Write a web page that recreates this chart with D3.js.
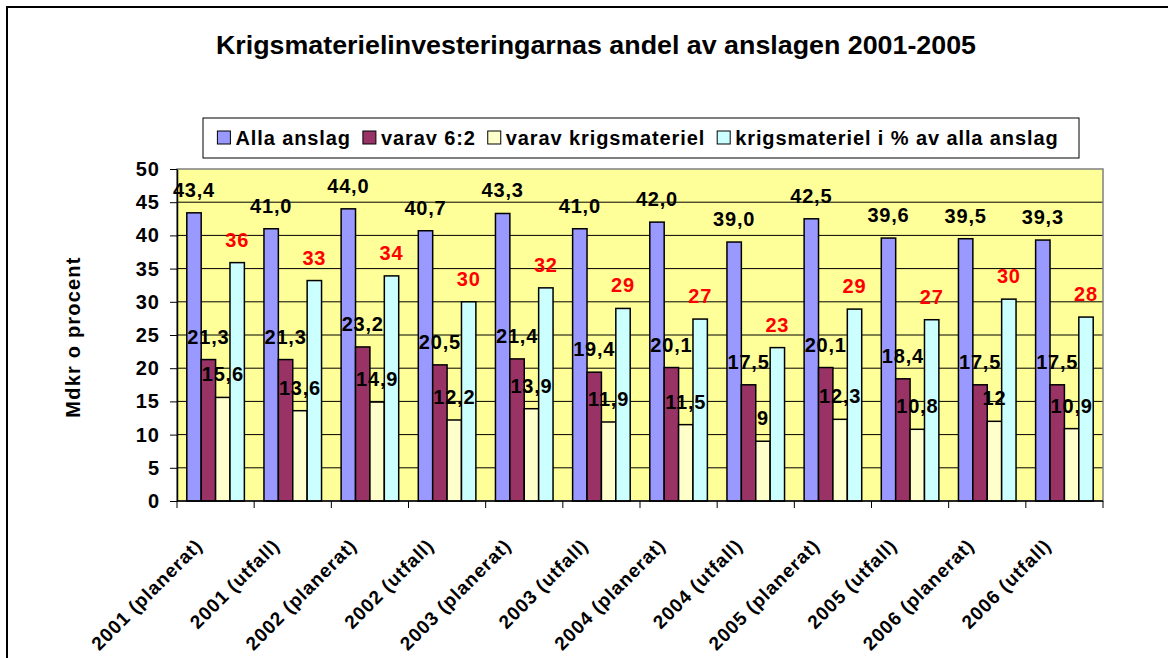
<!DOCTYPE html>
<html>
<head>
<meta charset="utf-8">
<script src="https://cdn.jsdelivr.net/npm/d3@7"></script>
<style>
  body { margin: 0; background: #fff; }
  text { font-family: "Liberation Sans", Arial, sans-serif; font-weight: bold; }
</style>
</head>
<body>
<div id="chart"></div>
<script>
// chart values
const categories = ["2001 (planerat)", "2001 (utfall)", "2002 (planerat)", "2002 (utfall)",
    "2003 (planerat)", "2003 (utfall)", "2004 (planerat)", "2004 (utfall)",
    "2005 (planerat)", "2005 (utfall)", "2006 (planerat)", "2006 (utfall)"];
const seriesNames = ["Alla anslag", "varav 6:2", "varav krigsmateriel", "krigsmateriel i % av alla anslag"];
const allaAnslag = [43.4, 41.0, 44.0, 40.7, 43.3, 41.0, 42.0, 39.0, 42.5, 39.6, 39.5, 39.3];
const varav62 = [21.3, 21.3, 23.2, 20.5, 21.4, 19.4, 20.1, 17.5, 20.1, 18.4, 17.5, 17.5];
const varavKrigsmateriel = [15.6, 13.6, 14.9, 12.2, 13.9, 11.9, 11.5, 9, 12.3, 10.8, 12, 10.9];
const procentAvAlla = [35.9, 33.2, 33.9, 30.0, 32.1, 29.0, 27.4, 23.1, 28.9, 27.3, 30.4, 27.7];
const yTicks = [0, 5, 10, 15, 20, 25, 30, 35, 40, 45, 50];

const colors = ["#9999FF", "#993366", "#FFFFCC", "#CCFFFF"];
const labelColors = ["#000", "#000", "#000", "#FF0000"];

// label formats: comma as decimal sign
const comma = s => s.replace(".", ",");
const formats = [
    v => comma(d3.format(".1f")(v)),
    v => comma(d3.format(".1f")(v)),
    v => comma(String(v)),
    v => String(Math.round(v))
];

const seriesValues = [allaAnslag, varav62, varavKrigsmateriel, procentAvAlla];

const width = 1168, height = 658;
const margin = {top: 169, right: 65, bottom: 157, left: 177};
const plotW = width - margin.left - margin.right;
const plotH = height - margin.top - margin.bottom;

const svg = d3.select("#chart").append("svg")
    .attr("width", width)
    .attr("height", height);

// outer frame (only top and left visible)
svg.append("path")
    .attr("d", `M7,${height} L7,7 L${width},7`)
    .attr("fill", "none")
    .attr("stroke", "#000")
    .attr("stroke-width", 2);

// title
svg.append("text")
    .attr("x", 596)
    .attr("y", 54)
    .attr("text-anchor", "middle")
    .attr("font-size", 25)
    .attr("textLength", 760)
    .attr("lengthAdjust", "spacingAndGlyphs")
    .text("Krigsmaterielinvesteringarnas andel av anslagen 2001-2005");

// legend
const legendBox = {x: 203, y: 118, w: 876, h: 40};
svg.append("rect")
    .attr("x", legendBox.x).attr("y", legendBox.y)
    .attr("width", legendBox.w).attr("height", legendBox.h)
    .attr("fill", "#fff").attr("stroke", "#000");

const legend = svg.append("g");
let lx = 0;
seriesNames.forEach((name, i) => {
    legend.append("rect")
        .attr("x", lx).attr("y", -7)
        .attr("width", 13).attr("height", 13)
        .attr("fill", colors[i]).attr("stroke", "#000");
    const t = legend.append("text")
        .attr("x", lx + 18).attr("y", 7)
        .attr("font-size", 20)
        .attr("letter-spacing", 0.9)
        .text(name);
    lx += 18 + t.node().getComputedTextLength() + 12;
});
lx -= 12;
legend.attr("transform", `translate(${legendBox.x + (legendBox.w - lx) / 2 - 3},${legendBox.y + 20})`);

const chart = svg.append("g")
    .attr("transform", `translate(${margin.left},${margin.top})`);

const x0 = d3.scaleBand().domain(categories).range([0, plotW]);
const x1 = d3.scaleBand().domain(d3.range(4)).range([0, x0.bandwidth()]).paddingOuter(0.68);
const y = d3.scaleLinear().domain([0, 50]).range([plotH, 0]);

// plot background
chart.append("rect")
    .attr("width", plotW).attr("height", plotH)
    .attr("fill", "#FFFF99");

// gridlines
chart.selectAll(".grid")
    .data(yTicks.filter(d => d > 0 && d < 50))
    .enter().append("line")
    .attr("x1", 0).attr("x2", plotW)
    .attr("y1", d => y(d)).attr("y2", d => y(d))
    .attr("stroke", "#000").attr("stroke-width", 1);

chart.append("rect")
    .attr("width", plotW).attr("height", plotH)
    .attr("fill", "none").attr("stroke", "#808080").attr("stroke-width", 1.5);

// bars
seriesValues.forEach((vals, s) => {
    chart.selectAll(".bar" + s)
        .data(vals)
        .enter().append("rect")
        .attr("x", (d, i) => x0(categories[i]) + x1(s))
        .attr("y", d => y(d))
        .attr("width", x1.bandwidth())
        .attr("height", d => plotH - y(d))
        .attr("fill", colors[s])
        .attr("stroke", "#000")
        .attr("stroke-width", 1.5);
});

// data labels on top
seriesValues.forEach((vals, s) => {
    chart.selectAll(".lab" + s)
        .data(vals)
        .enter().append("text")
        .attr("x", (d, i) => x0(categories[i]) + x1(s) + x1.bandwidth() / 2)
        .attr("y", d => y(d) - 16)
        .attr("text-anchor", "middle")
        .attr("font-size", 20)
        .attr("letter-spacing", 0.8)
        .attr("fill", labelColors[s])
        .text(formats[s]);
});

// y axis
const yAxis = chart.append("g")
    .call(d3.axisLeft(y).tickValues(yTicks).tickSize(7).tickPadding(10).tickSizeOuter(0));
yAxis.select(".domain").attr("stroke", "#000").attr("stroke-width", 1.5);
yAxis.selectAll("text")
    .attr("font-size", 20)
    .attr("letter-spacing", 1)
    .attr("font-family", "Liberation Sans, Arial, sans-serif")
    .attr("fill", "#000");

// x axis line and boundary ticks
chart.append("line")
    .attr("x1", 0).attr("x2", plotW)
    .attr("y1", plotH).attr("y2", plotH)
    .attr("stroke", "#000").attr("stroke-width", 1.5);
chart.selectAll(".xtick")
    .data(categories.map(c => x0(c)).concat([plotW]))
    .enter().append("line")
    .attr("x1", d => d).attr("x2", d => d)
    .attr("y1", plotH).attr("y2", plotH + 7)
    .attr("stroke", "#000");

// rotated category labels
chart.selectAll(".xlab")
    .data(categories)
    .enter().append("text")
    .attr("transform", d => `translate(${x0(d) + x0.bandwidth() / 2 - 12},${plotH + 46}) rotate(-45)`)
    .attr("text-anchor", "end")
    .attr("font-size", 19)
    .attr("letter-spacing", 0.9)
    .text(d => d);

// y axis title
svg.append("text")
    .attr("transform", "translate(80,337) rotate(-90)")
    .attr("text-anchor", "middle")
    .attr("font-size", 20)
    .attr("letter-spacing", 1.2)
    .text("Mdkr o procent");
</script>
</body>
</html>
